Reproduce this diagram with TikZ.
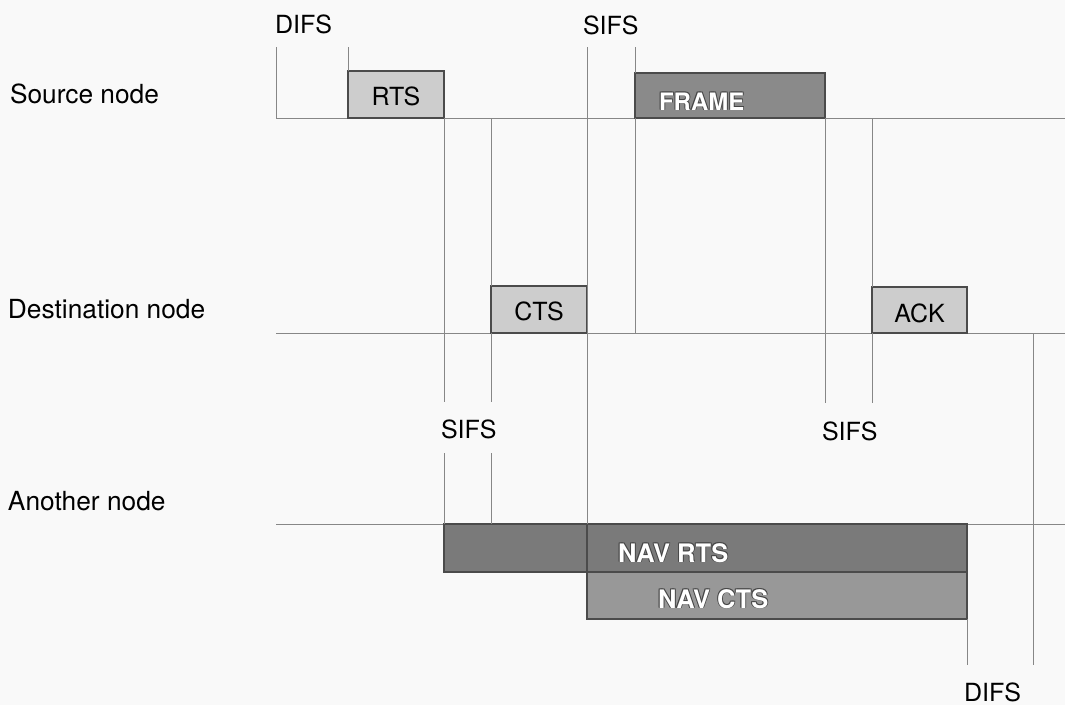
\documentclass[tikz,border=0pt]{standalone}
\usepackage{fontspec}
\setmainfont{TeX Gyre Heros}
\definecolor{bgc}{RGB}{249,249,249}
\definecolor{tlc}{RGB}{135,135,135}
\definecolor{edgec}{RGB}{75,75,75}
\definecolor{lightc}{RGB}{205,205,205}
\definecolor{framec}{RGB}{138,138,138}
\definecolor{navrc}{RGB}{122,122,122}
\definecolor{navcc}{RGB}{152,152,152}
\definecolor{olc}{RGB}{70,70,70}
\newcommand\olined[1]{%
  \makebox[0pt][l]{\textcolor{olc}{\kern-.8pt\raisebox{.8pt}{#1}}}%
  \makebox[0pt][l]{\textcolor{olc}{\kern.8pt\raisebox{-.8pt}{#1}}}%
  \makebox[0pt][l]{\textcolor{olc}{\kern.8pt\raisebox{.8pt}{#1}}}%
  \makebox[0pt][l]{\textcolor{olc}{\kern-.8pt\raisebox{-.8pt}{#1}}}%
  \textcolor{white}{#1}}
\begin{document}
\begin{tikzpicture}[x=1pt,y=-1pt,
  tline/.style={draw=tlc, line width=0.9pt},
  pkt/.style={draw=edgec, line width=1.1pt, inner sep=0pt, outer sep=0pt},
  lightpkt/.style={pkt, fill=lightc},
  txt/.style={inner sep=0pt, outer sep=0pt, anchor=base west, font=\fontsize{25}{30}\selectfont},
  nodetxt/.style={txt, font=\fontsize{26.3}{30}\selectfont},
  ctxt/.style={inner sep=0pt, outer sep=0pt, anchor=base, font=\fontsize{25}{30}\selectfont},
  wtxt/.style={inner sep=0pt, outer sep=0pt, anchor=base west, font=\fontsize{25.5}{30}\selectfont\bfseries}]
\fill[bgc] (0,0) rectangle (1065,705);
\useasboundingbox (0,0) rectangle (1065,705);

% coordinates
\coordinate (s0) at (276,118); \coordinate (s1) at (1065,118);
\coordinate (d0) at (276,333); \coordinate (d1) at (1065,333);
\coordinate (a0) at (276,524); \coordinate (a1) at (1065,524);
\coordinate (difsA) at (276,47); \coordinate (difsB) at (348,47);
\coordinate (sifsA) at (587,47); \coordinate (sifsB) at (635,47);
\coordinate (v444a) at (444,402); \coordinate (v444b) at (444,453);
\coordinate (v491a) at (491,402); \coordinate (v491b) at (491,453);
\coordinate (v825) at (825,403); \coordinate (v872) at (872,403);
\coordinate (v967) at (967,665);
\coordinate (v1033a) at (1033,333); \coordinate (v1033b) at (1033,665);

% timelines
\draw[tline] (s0) -- (s1);
\draw[tline] (d0) -- (d1);
\draw[tline] (a0) -- (a1);

% boxes
\node[lightpkt, minimum width=96pt, minimum height=47pt] (rts) at (396,94.5) {};
\node[pkt, fill=framec, minimum width=190pt, minimum height=45pt] (frame) at (730,95.5) {};
\node[lightpkt, minimum width=96pt, minimum height=47pt] (cts) at (539,309.5) {};
\node[lightpkt, minimum width=95pt, minimum height=46pt] (ack) at (919.5,310) {};
\node[pkt, fill=navrc, minimum width=523pt, minimum height=48pt] (navrts) at (705.5,548) {};
\node[pkt, fill=navcc, minimum width=380pt, minimum height=47pt] (navcts) at (777,595.5) {};

% vertical markers
\draw[tline] (difsA) -- (s0);
\draw[tline] (difsB) -- (rts.north west);
\draw[tline] (rts.south east) -- (v444a);
\draw[tline] (v444b) -- (navrts.north west);
\draw[tline] (cts.north west |- s0) -- (cts.north west);
\draw[tline] (cts.south west) -- (v491a);
\draw[tline] (v491b) -- (v491b |- a0);
\draw[tline] (sifsB) -- (frame.north west);
\draw[tline] (frame.south west) -- (frame.south west |- d0);
\draw[tline] (frame.south east) -- (v825);
\draw[tline] (ack.north west |- s0) -- (ack.north west);
\draw[tline] (ack.south west) -- (v872);
\draw[tline] (navcts.south east) -- (v967);
\draw[tline] (v1033a) -- (v1033b);
\draw[tline] (sifsA) -- (navrts.north -| sifsA);
\draw[draw=edgec, line width=1.1pt] (navrts.north -| sifsA) -- (navcts.north west);

% labels
\node[nodetxt] (lsrc) at (10,103) {Source node};
\node[nodetxt] (ldst) at (8,318) {Destination node};
\node[nodetxt] (lano) at (8,510) {Another node};
\node[txt] (tdifs) at (275,33) {DIFS};
\node[txt] (tsifs) at (583,34) {SIFS};
\node[txt] (msifs1) at (441,438) {SIFS};
\node[txt] (msifs2) at (822,440) {SIFS};
\node[txt] (bdifs) at (964,701) {DIFS};
\node[ctxt] (trts) at (396,105) {RTS};
\node[ctxt] (tcts) at (539,320) {CTS};
\node[ctxt] (tack) at (919.5,322) {ACK};
\node[wtxt, font=\fontsize{24}{30}\selectfont\bfseries] (tframe) at (659,110) {\olined{FRAME}};
\node[wtxt] (tnavr) at (618,562) {\olined{NAV RTS}};
\node[wtxt] (tnavc) at (658,608) {\olined{NAV CTS}};
\end{tikzpicture}
\end{document}
